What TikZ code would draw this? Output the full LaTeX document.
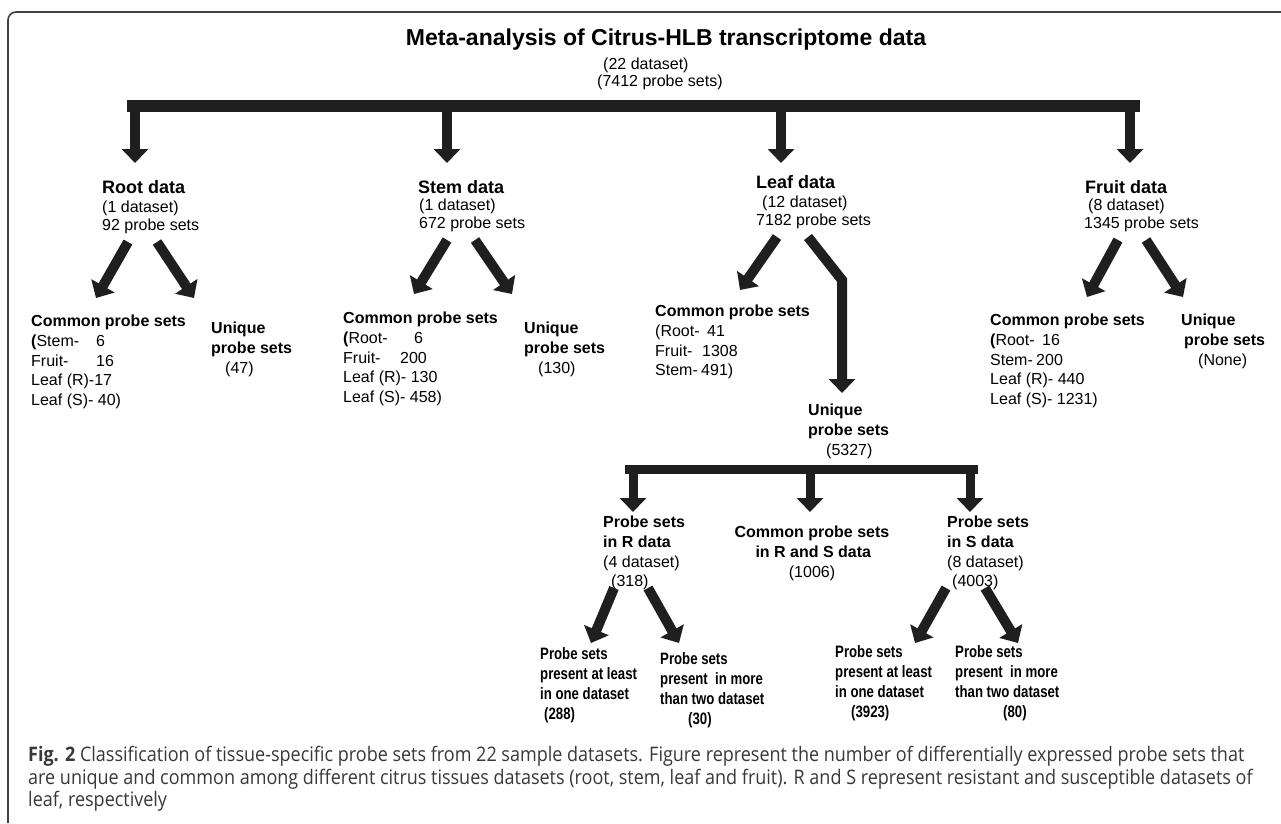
\documentclass[tikz,border=0pt]{standalone}
\usepackage{fontspec}
\setmainfont{Liberation Sans}
\newfontfamily\narrowfont[FakeStretch=0.8]{Liberation Sans}
\newfontfamily\capfont[FakeStretch=0.9]{Open Sans}
\usepackage{tikz}
\usetikzlibrary{arrows.meta}
\usetikzlibrary{positioning}

\begin{document}
\begin{tikzpicture}[x=1pt,y=-1pt,node distance=3pt,line join=miter]
  \tikzstyle{hd}=[inner sep=0pt,anchor=west,font=\bfseries\fontsize{18}{20}\selectfont]
  \tikzstyle{sub}=[inner sep=0pt,anchor=north west,align=left,font=\fontsize{16}{19.7}\selectfont]
  \tikzstyle{low}=[inner sep=0pt,anchor=north west,align=left,font=\narrowfont\bfseries\fontsize{16.5}{20}\selectfont]
  \tikzstyle{bar}=[line width=12pt,color=black!88]
  \tikzstyle{down}=[line width=10pt,color=black!88,-{Triangle[width=26pt,length=14pt]}]
  \useasboundingbox (0,0) rectangle (1281,823);
  \draw[line width=1.6pt,black!75,rounded corners=8pt] (1281,12) -- (8,12) -- (8,823);

  % top
  \node[inner sep=0pt,font=\bfseries\fontsize{23}{26}\selectfont] (title) at (666,40) {Meta-analysis of Citrus-HLB transcriptome data};
  \node[inner sep=0pt,anchor=west,font=\fontsize{16}{18}\selectfont] (sets) at (603,65) {(22 dataset)};
  \node[inner sep=0pt,anchor=west,font=\fontsize{16}{18}\selectfont] (probes) at (597,82) {(7412 probe sets)};
  \coordinate (b0) at (127,106);
  \coordinate (b1) at (1140,106);
  \draw[bar] (b0) -- (b1);

  % tissues
  \node[hd] (rootH)  at (102,187) {Root data};
  \node[hd] (stemH)  at (418,187) {Stem data};
  \node[hd] (leafH)  at (756,182) {Leaf data};
  \node[hd] (fruitH) at (1085,187) {Fruit data};
  \node[sub,font=\fontsize{16}{18}\selectfont] (rootS)  at (102,201) {(1 dataset)\\92 probe sets};
  \node[sub,font=\fontsize{16}{18}\selectfont] (stemS)  at (419,199) {(1 dataset)\\672 probe sets};
  \node[sub,font=\fontsize{16}{18}\selectfont] (leafS)  at (756,196) {\hspace{6pt}(12 dataset)\\7182 probe sets};
  \node[sub,font=\fontsize{16}{18}\selectfont] (fruitS) at (1084,199) {\hspace{4pt}(8 dataset)\\1345 probe sets};

  \draw[down] (b0 -| 135,0) -- (135,163);
  \draw[down] (b0 -| 447,0) -- (447,163);
  \draw[down] (b0 -| 781,0) -- (781,163);
  \draw[down] (b0 -| 1130,0) -- (1130,163);

  % second row
  \node[sub] (rootC) at (31,315) {\textbf{Common probe sets}\\\makebox[65pt][l]{\textbf{(}Stem-}6\\\makebox[65pt][l]{Fruit-}16\\Leaf (R)-17\\Leaf (S)- 40)};
  \node[sub] (rootU) at (211,322) {\textbf{Unique}\\\textbf{probe sets}\\\hspace{14pt}(47)};
  \node[sub] (stemC) at (343,312) {\textbf{Common probe sets}\\\makebox[71pt][l]{\textbf{(}Root-}6\\\makebox[57pt][l]{Fruit-}200\\Leaf (R)- 130\\Leaf (S)- 458)};
  \node[sub] (stemU) at (524,322) {\textbf{Unique}\\\textbf{probe sets}\\\hspace{14pt}(130)};
  \node[sub] (leafC) at (655,305) {\textbf{Common probe sets}\\\makebox[52pt][l]{(Root-}41\\\makebox[47pt][l]{Fruit-}1308\\\makebox[46pt][l]{Stem-}491)};
  \node[sub] (leafU) at (808,404) {\textbf{Unique}\\\textbf{probe sets}\\\hspace{18pt}(5327)};
  \node[sub] (fruitC) at (990,314) {\textbf{Common probe sets}\\\makebox[52pt][l]{\textbf{(}Root-}16\\\makebox[46pt][l]{Stem-}200\\Leaf (R)- 440\\Leaf (S)- 1231)};
  \node[sub] (fruitU) at (1181,314) {\textbf{Unique}\\\hspace{3pt}\textbf{probe sets}\\\hspace{17pt}(None)};

  \coordinate (rootL0) at (128,242);  \coordinate (rootL1) at (96,298);
  \coordinate (rootR0) at (157,242);  \coordinate (rootR1) at (194,298);
  \coordinate (stemL0) at (447,240);  \coordinate (stemL1) at (414,294);
  \coordinate (stemR0) at (475,240);  \coordinate (stemR1) at (512,294);
  \coordinate (leafL0) at (777,237);  \coordinate (leafL1) at (740,290);
  \coordinate (leafR0) at (808,237);  \coordinate (leafK)  at (842,280);
  \coordinate (fruitL0) at (1118,240); \coordinate (fruitL1) at (1087,297);
  \coordinate (fruitR0) at (1146,240); \coordinate (fruitR1) at (1183,297);
  \draw[down] (rootL0) -- (rootL1);
  \draw[down] (rootR0) -- (rootR1);
  \draw[down] (stemL0) -- (stemL1);
  \draw[down] (stemR0) -- (stemR1);
  \draw[down] (leafL0) -- (leafL1);
  \draw[down] (leafR0) -- (leafK) -- (leafK |- 0,393);
  \draw[down] (fruitL0) -- (fruitL1);
  \draw[down] (fruitR0) -- (fruitR1);

  % leaf unique split
  \coordinate (c0) at (625,469);
  \coordinate (c1) at (978,469);
  \draw[bar,line width=9pt] (c0) -- (c1);
  \node[sub] (rset) at (603,516) {\textbf{Probe sets}\\\textbf{in R data}\\(4 dataset)\\\hspace{8pt}(318)};
  \node[sub,align=center,anchor=north] (rsC) at (812,526) {\textbf{Common probe sets}\\\textbf{\,in R and S data}\\(1006)};
  \node[sub] (sset) at (947,516) {\textbf{Probe sets}\\\textbf{in S data}\\(8 dataset)\\\hspace{5pt}(4003)};
  \draw[down,line width=9pt] (c0 -| 633,0) -- (633,512);
  \draw[down,line width=9pt] (c0 -| 810,0) -- (810,512);
  \draw[down,line width=9pt] (c0 -| 970,0) -- (970,512);

  % last row
  \node[low] (r1) at (540,647) {Probe sets\\present at least\\in one dataset\\\hspace{4pt}(288)};
  \node[low] (r2) at (660,652) {Probe sets\\present\ \ in more\\than two dataset\\\hspace{28pt}(30)};
  \node[low] (s1) at (835,645) {Probe sets\\present at least\\in one dataset\\\hspace{16pt}(3923)};
  \node[low] (s2) at (955,645) {Probe sets\\present\ \ in more\\than two dataset\\\hspace{48pt}(80)};
  \coordinate (rL0) at (614,588); \coordinate (rL1) at (591,643);
  \coordinate (rR0) at (648,588); \coordinate (rR1) at (679,643);
  \coordinate (sL0) at (946,588); \coordinate (sL1) at (915,643);
  \coordinate (sR0) at (985,588); \coordinate (sR1) at (1018,643);
  \draw[down] (rL0) -- (rL1);
  \draw[down] (rR0) -- (rR1);
  \draw[down] (sL0) -- (sL1);
  \draw[down] (sR0) -- (sR1);

  % caption
  \node[inner sep=0pt,anchor=north west,align=left,text=black!78,font=\capfont\fontsize{20}{22.5}\selectfont] (cap) at (28,746)
    {\textbf{Fig. 2} Classification of tissue-specific probe sets from 22 sample datasets. Figure represent the number of differentially expressed probe sets that\\
     are unique and common among different citrus tissues datasets (root, stem, leaf and fruit). R and S represent resistant and susceptible datasets of\\
     leaf, respectively};
\end{tikzpicture}
\end{document}
